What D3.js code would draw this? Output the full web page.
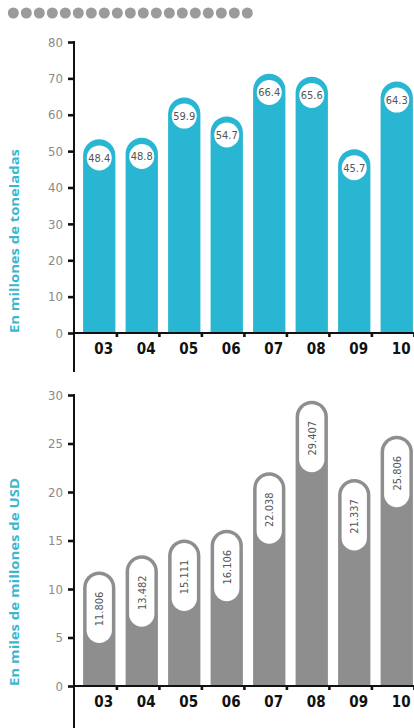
<!DOCTYPE html>
<html>
<head>
    <meta charset="utf-8">
    <title>Toneladas y USD</title>
    <script src="https://cdn.jsdelivr.net/npm/d3@7"></script>
    <style>
        html, body { margin: 0; padding: 0; background: #fff; }
    </style>
</head>
<body>
    <svg width="414" height="728" id="mainsvg" style="display: block;"></svg>
    <script>
        // data
        const years = ['03', '04', '05', '06', '07', '08', '09', '10'];
        const tonnes = [48.4, 48.8, 59.9, 54.7, 66.4, 65.6, 45.7, 64.3];
        const usd = [11.806, 13.482, 15.111, 16.106, 22.038, 29.407, 21.337, 25.806];
        const tonnesTicks = [0, 10, 20, 30, 40, 50, 60, 70, 80];
        const usdTicks = [0, 5, 10, 15, 20, 25, 30];

        const svg = d3.select('#mainsvg');
        const teal = '#29b6d2';
        const grey = '#8e8e8e';
        const condensed = "'DejaVu Sans Condensed', 'DejaVu Sans', sans-serif";
        const axisX = 74;

        // row of dots on top (decoration)
        svg.append('g').selectAll('circle').data(d3.range(19)).join('circle')
            .attr('cx', i => 13.3 + i * 13)
            .attr('cy', 13)
            .attr('r', 5.5)
            .attr('fill', '#9b9b9b');

        const xScale = d3.scaleBand()
            .domain(years)
            .range([78, 418])
            .paddingInner(0.24)
            .paddingOuter(0.12);
        const bw = xScale.bandwidth();
        const r = bw / 2;

        // draws the axes of one panel
        const drawAxes = function (yScale, ticks, axisBottom, title) {
            const g = svg.append('g');
            const base = yScale(0);

            const yAxis = d3.axisLeft(yScale)
                .tickValues(ticks)
                .tickSize(6)
                .tickPadding(5);
            const yg = g.append('g')
                .attr('transform', `translate(${axisX}, 0)`)
                .call(yAxis);
            yg.selectAll('.domain').remove();
            yg.selectAll('.tick line').attr('stroke', '#111').attr('stroke-width', 2.6);
            yg.selectAll('.tick text')
                .attr('fill', '#8a8a8a')
                .attr('font-family', condensed)
                .attr('font-size', '13px');

            // vertical axis line running past the baseline
            g.append('line')
                .attr('x1', axisX).attr('x2', axisX)
                .attr('y1', yScale(ticks[ticks.length - 1]) - 1)
                .attr('y2', axisBottom)
                .attr('stroke', '#111').attr('stroke-width', 2);

            // baseline
            g.append('line')
                .attr('x1', axisX).attr('x2', 414)
                .attr('y1', base).attr('y2', base)
                .attr('stroke', '#111').attr('stroke-width', 2);

            // small ticks between bars
            g.selectAll('.xtick').data(years).join('line')
                .attr('class', 'xtick')
                .attr('x1', d => xScale(d) + bw + 1.5)
                .attr('x2', d => xScale(d) + bw + 1.5)
                .attr('y1', base).attr('y2', base + 4)
                .attr('stroke', '#111').attr('stroke-width', 2.6);

            g.selectAll('.xlabel').data(years).join('text')
                .attr('class', 'xlabel')
                .attr('x', d => xScale(d) + bw / 2 + 4.5)
                .attr('y', base + 21)
                .attr('text-anchor', 'middle')
                .attr('font-family', condensed)
                .attr('font-weight', 'bold')
                .attr('font-size', '15px')
                .attr('fill', '#111')
                .text(d => d);

            // axis title, starts level with the zero tick
            g.append('text')
                .attr('transform', `translate(19, ${base}) rotate(-90)`)
                .attr('text-anchor', 'start')
                .attr('font-family', "'Open Sans', sans-serif")
                .attr('font-weight', 'bold')
                .attr('font-size', '12.5px')
                .attr('fill', '#3bb6cf')
                .attr('textLength', title.len)
                .attr('lengthAdjust', 'spacingAndGlyphs')
                .text(title.text);
        };

        // bar with round top, arc centered at (cx, cy)
        const roundBar = (x0, cy, base) =>
            `M${x0},${base}L${x0},${cy}A${r},${r} 0 0 1 ${x0 + bw},${cy}L${x0 + bw},${base}Z`;

        // ---- top chart: millones de toneladas
        const yTop = d3.scaleLinear().domain([0, 80]).range([333, 42]);
        drawAxes(yTop, tonnesTicks, 372, { text: 'En millones de toneladas', len: 184 });

        const topData = years.map((y, i) => ({ year: y, value: tonnes[i] }));
        const gTop = svg.append('g');
        gTop.selectAll('.topBar').data(topData).join('path')
            .attr('class', 'topBar')
            .attr('d', d => roundBar(xScale(d.year), yTop(d.value) - 1.5, yTop(0) - 1))
            .attr('fill', teal);
        gTop.selectAll('.topDot').data(topData).join('circle')
            .attr('class', 'topDot')
            .attr('cx', d => xScale(d.year) + r)
            .attr('cy', d => yTop(d.value) + 1)
            .attr('r', 12.5)
            .attr('fill', '#fff');
        gTop.selectAll('.topLabel').data(topData).join('text')
            .attr('class', 'topLabel')
            .attr('x', d => xScale(d.year) + r)
            .attr('y', d => yTop(d.value) + 5)
            .attr('text-anchor', 'middle')
            .attr('font-family', condensed)
            .attr('font-size', '11px')
            .attr('fill', '#555')
            .text(d => d.value.toFixed(1));

        // ---- bottom chart: miles de millones de USD
        const yBot = d3.scaleLinear().domain([0, 30]).range([686, 395]);
        drawAxes(yBot, usdTicks, 728, { text: 'En miles de millones de USD', len: 208 });

        const botData = years.map((y, i) => ({ year: y, value: usd[i] }));
        const gBot = svg.append('g');
        gBot.selectAll('.botBar').data(botData).join('path')
            .attr('class', 'botBar')
            .attr('d', d => roundBar(xScale(d.year), yBot(d.value) + r, yBot(0) - 1))
            .attr('fill', grey);
        gBot.selectAll('.pill').data(botData).join('rect')
            .attr('class', 'pill')
            .attr('x', d => xScale(d.year) + 3.5)
            .attr('y', d => yBot(d.value) + 3.5)
            .attr('width', bw - 7)
            .attr('height', 68)
            .attr('rx', (bw - 7) / 2)
            .attr('fill', '#fff');
        gBot.selectAll('.botLabel').data(botData).join('text')
            .attr('class', 'botLabel')
            .attr('transform', d => `translate(${xScale(d.year) + r + 4}, ${yBot(d.value) + 37.5}) rotate(-90)`)
            .attr('text-anchor', 'middle')
            .attr('font-family', condensed)
            .attr('font-size', '11px')
            .attr('fill', '#555')
            .text(d => d.value.toFixed(3));
    </script>
</body>
</html>
